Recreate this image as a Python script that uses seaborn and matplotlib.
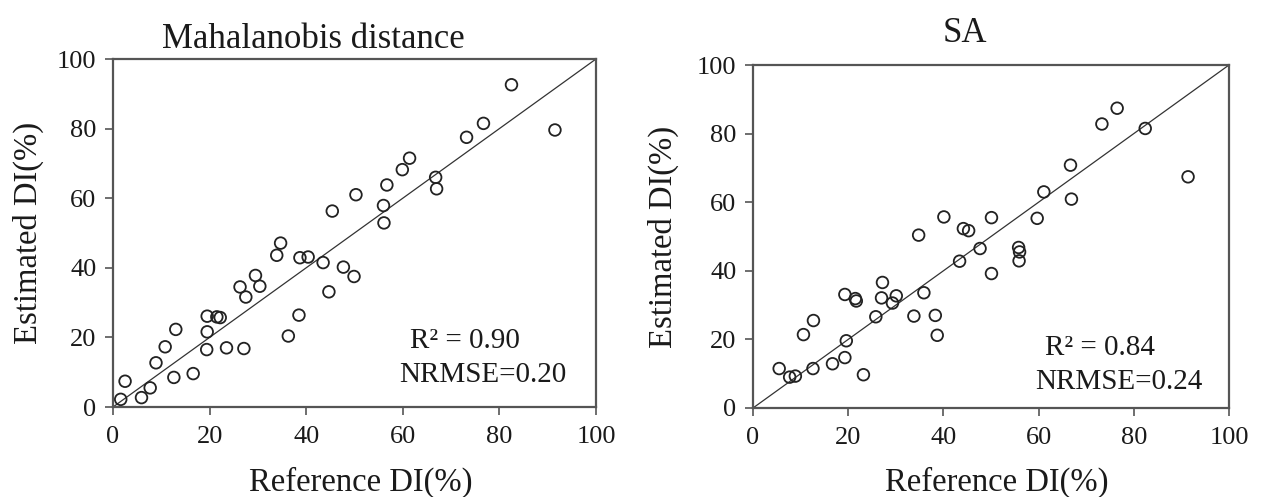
import matplotlib
matplotlib.use("Agg")
import matplotlib.pyplot as plt
import seaborn as sns
import pandas as pd

# ---------------- data ----------------
md_ref = [2.5, 1.6, 5.9, 7.7, 8.9, 10.8, 13.0, 12.6, 16.6, 19.5, 19.5, 19.4,
          21.5, 22.2, 23.5, 26.3, 27.5, 27.1, 29.5, 30.4, 33.9, 34.7, 36.3,
          38.5, 38.7, 40.4, 43.5, 45.4, 44.7, 47.7, 50.3, 49.9, 56.0, 56.1,
          56.7, 59.9, 61.4, 66.8, 67.0, 73.2, 76.7, 82.5, 91.5]
md_est = [7.4, 2.2, 2.7, 5.5, 12.7, 17.3, 22.3, 8.5, 9.6, 26.1, 21.6, 16.5,
          25.9, 25.7, 17.0, 34.5, 31.6, 16.8, 37.8, 34.7, 43.6, 47.1, 20.4,
          26.4, 42.9, 43.1, 41.5, 56.3, 33.1, 40.2, 61.0, 37.5, 57.9, 52.9,
          63.8, 68.2, 71.5, 66.0, 62.7, 77.5, 81.5, 92.6, 79.6]

sa_ref = [5.5, 7.7, 8.9, 10.6, 12.7, 12.6, 16.7, 19.3, 19.6, 19.3, 21.5, 21.7,
          23.2, 25.8, 27.2, 27.0, 29.3, 30.1, 33.8, 34.8, 35.9, 38.3, 38.7,
          40.1, 43.4, 44.2, 45.3, 47.7, 50.1, 50.1, 55.8, 56.0, 55.9, 59.7,
          61.1, 66.9, 66.7, 73.3, 76.5, 82.4, 91.4]
sa_est = [11.5, 9.0, 9.3, 21.4, 25.5, 11.5, 12.9, 33.1, 19.6, 14.7, 31.9, 31.2,
          9.7, 26.6, 36.6, 32.1, 30.6, 32.7, 26.8, 50.4, 33.6, 27.0, 21.2,
          55.7, 42.8, 52.3, 51.7, 46.5, 55.5, 39.2, 46.8, 45.5, 42.9, 55.3,
          63.0, 60.9, 70.8, 82.8, 87.4, 81.5, 67.4]

one_to_one = [0, 100]
ticks = [0, 20, 40, 60, 80, 100]
titles = ["Mahalanobis distance", "SA"]
r2_labels = ["R² = 0.90", "R² = 0.84"]
nrmse_labels = ["NRMSE=0.20", "NRMSE=0.24"]
x_label = "Reference DI(%)"
y_label = "Estimated DI(%)"

# ---------------- style ----------------
sns.set_theme(style="white")
plt.rcParams["font.family"] = ["Liberation Serif", "DejaVu Serif"]
TXT = "#1a1a1a"
SPINE = "#555555"

W, H = 1261, 497
fig = plt.figure(figsize=(W / 100, H / 100), dpi=100)

def px_rect(l, r, t, b):
    return [l / W, 1 - b / H, (r - l) / W, (b - t) / H]

axes_px = [(113, 596, 59, 407), (753, 1229, 65, 408)]
panels = [(md_ref, md_est), (sa_ref, sa_est)]
title_pos = [(313, 48), (965, 42)]
r2_pos = [(410, 348), (1045, 355)]
nr_pos = [(399, 382), (1035, 389)]
ylab_x = [37, 672]

for i, ((xr, ye), rect) in enumerate(zip(panels, axes_px)):
    l, r, t, b = rect
    ax = fig.add_axes(px_rect(l, r, t, b))
    df = pd.DataFrame({"ref": xr, "est": ye})
    sns.lineplot(x=one_to_one, y=one_to_one, ax=ax, color="#333333",
                 linewidth=0.9, zorder=1)
    sns.scatterplot(data=df, x="ref", y="est", ax=ax, s=70,
                    facecolors="none", edgecolor="#222222", linewidth=1.3,
                    zorder=2)
    ax.set_xlim(0, 100)
    ax.set_ylim(0, 100)
    ax.set_xticks(ticks)
    ax.set_yticks(ticks)
    for sp in ax.spines.values():
        sp.set_color(SPINE)
        sp.set_linewidth(1.6)
        sp.set_visible(True)
    ax.tick_params(axis="both", direction="out", length=6, width=1.2,
                   color=SPINE, labelsize=19, labelcolor=TXT,
                   bottom=True, left=True)
    ax.tick_params(axis="x", pad=8)
    ax.tick_params(axis="y", pad=6)
    ax.set_xlabel(x_label, fontsize=23.5, color=TXT, va="baseline")
    ax.set_ylabel(y_label, fontsize=23.5, color=TXT, va="baseline")
    ax.xaxis.set_label_coords(((l + r) / 2 + 6 - l) / (r - l), (b - 491) / (b - t))
    ax.yaxis.set_label_coords((ylab_x[i] - l) / (r - l), 0.5)

    tx, ty = title_pos[i]
    fig.text(tx / W, 1 - ty / H, titles[i], ha="center", va="baseline",
             fontsize=25, color=TXT)
    rx, ry = r2_pos[i]
    fig.text(rx / W, 1 - ry / H, r2_labels[i], ha="left", va="baseline",
             fontsize=21, color=TXT)
    nx, ny = nr_pos[i]
    fig.text(nx / W, 1 - ny / H, nrmse_labels[i], ha="left", va="baseline",
             fontsize=21, color=TXT)

fig.savefig("out.png", dpi=100)
